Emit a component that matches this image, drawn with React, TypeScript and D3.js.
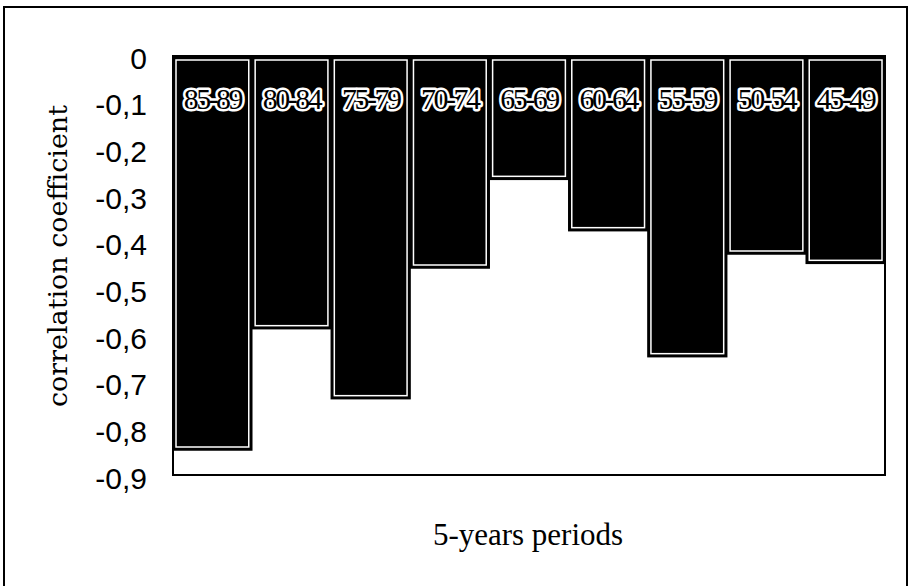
import React from "react";
import * as d3 from "d3";

const periods = ["85-89", "80-84", "75-79", "70-74", "65-69", "60-64", "55-59", "50-54", "45-49"];
const correlations = [-0.84, -0.58, -0.73, -0.45, -0.26, -0.37, -0.64, -0.42, -0.44];
const yTicks = [0, -0.1, -0.2, -0.3, -0.4, -0.5, -0.6, -0.7, -0.8, -0.9];

const W = 910;
const H = 586;
const plot = { left: 173, right: 885, top: 56, bottom: 475 };

export default function App() {
  const x = d3.scaleBand<string>().domain(periods).range([plot.left, plot.right]).paddingInner(0.005).paddingOuter(0);
  const y = d3.scaleLinear().domain([0, -0.9]).range([58, 478]);
  const fmt = (v: number) => (v === 0 ? "0" : d3.format(".1f")(v).replace(".", ",").replace("−", "-"));
  const bw = x.bandwidth();
  return (
    <svg width={W} height={H} style={{ position: "absolute", left: 0, top: 0, background: "#fff" }}>
      <rect x={4} y={7} width={903} height={600} fill="none" stroke="#000" strokeWidth={2} />
      <rect x={plot.left} y={plot.top} width={plot.right - plot.left} height={plot.bottom - plot.top} fill="none" stroke="#000" strokeWidth={2} />
      {periods.map((p, i) => {
        const x0 = x(p)!;
        const y0 = plot.top + 1;
        const y1 = y(correlations[i]);
        return (
          <g key={p}>
            <rect x={x0} y={y0} width={bw} height={y1 - y0} fill="#000" stroke="#000" strokeWidth={1.5} />
            <rect x={x0 + 3} y={y0 + 3} width={bw - 6} height={y1 - y0 - 6} fill="#000" stroke="#fff" strokeWidth={1.5} />
            <text
              x={x0 + bw / 2}
              y={109}
              textAnchor="middle"
              fontFamily="'Liberation Serif', serif"
              fontSize={30}
              letterSpacing={-2.5}
              fill="#000"
              stroke="#fff"
              strokeWidth={5}
              strokeLinejoin="round"
              paintOrder="stroke"
            >
              {p}
            </text>
          </g>
        );
      })}
      {yTicks.map((t) => (
        <text
          key={t}
          x={147}
          y={y(t)}
          dy="0.36em"
          textAnchor="end"
          fontFamily="'Liberation Sans', Arial, sans-serif"
          fontSize={30}
          fill="#000"
        >
          {fmt(t)}
        </text>
      ))}
      <text
        transform={`translate(67,256) rotate(-90)`}
        textAnchor="middle"
        fontFamily="'DejaVu Serif', serif"
        fontSize={26}
        textLength={302}
        lengthAdjust="spacingAndGlyphs"
        fill="#000"
      >
        correlation coefficient
      </text>
      <text
        x={528}
        y={545}
        textAnchor="middle"
        fontFamily="'Liberation Serif', serif"
        fontSize={31}
        fill="#000"
      >
        5-years periods
      </text>
    </svg>
  );
}
